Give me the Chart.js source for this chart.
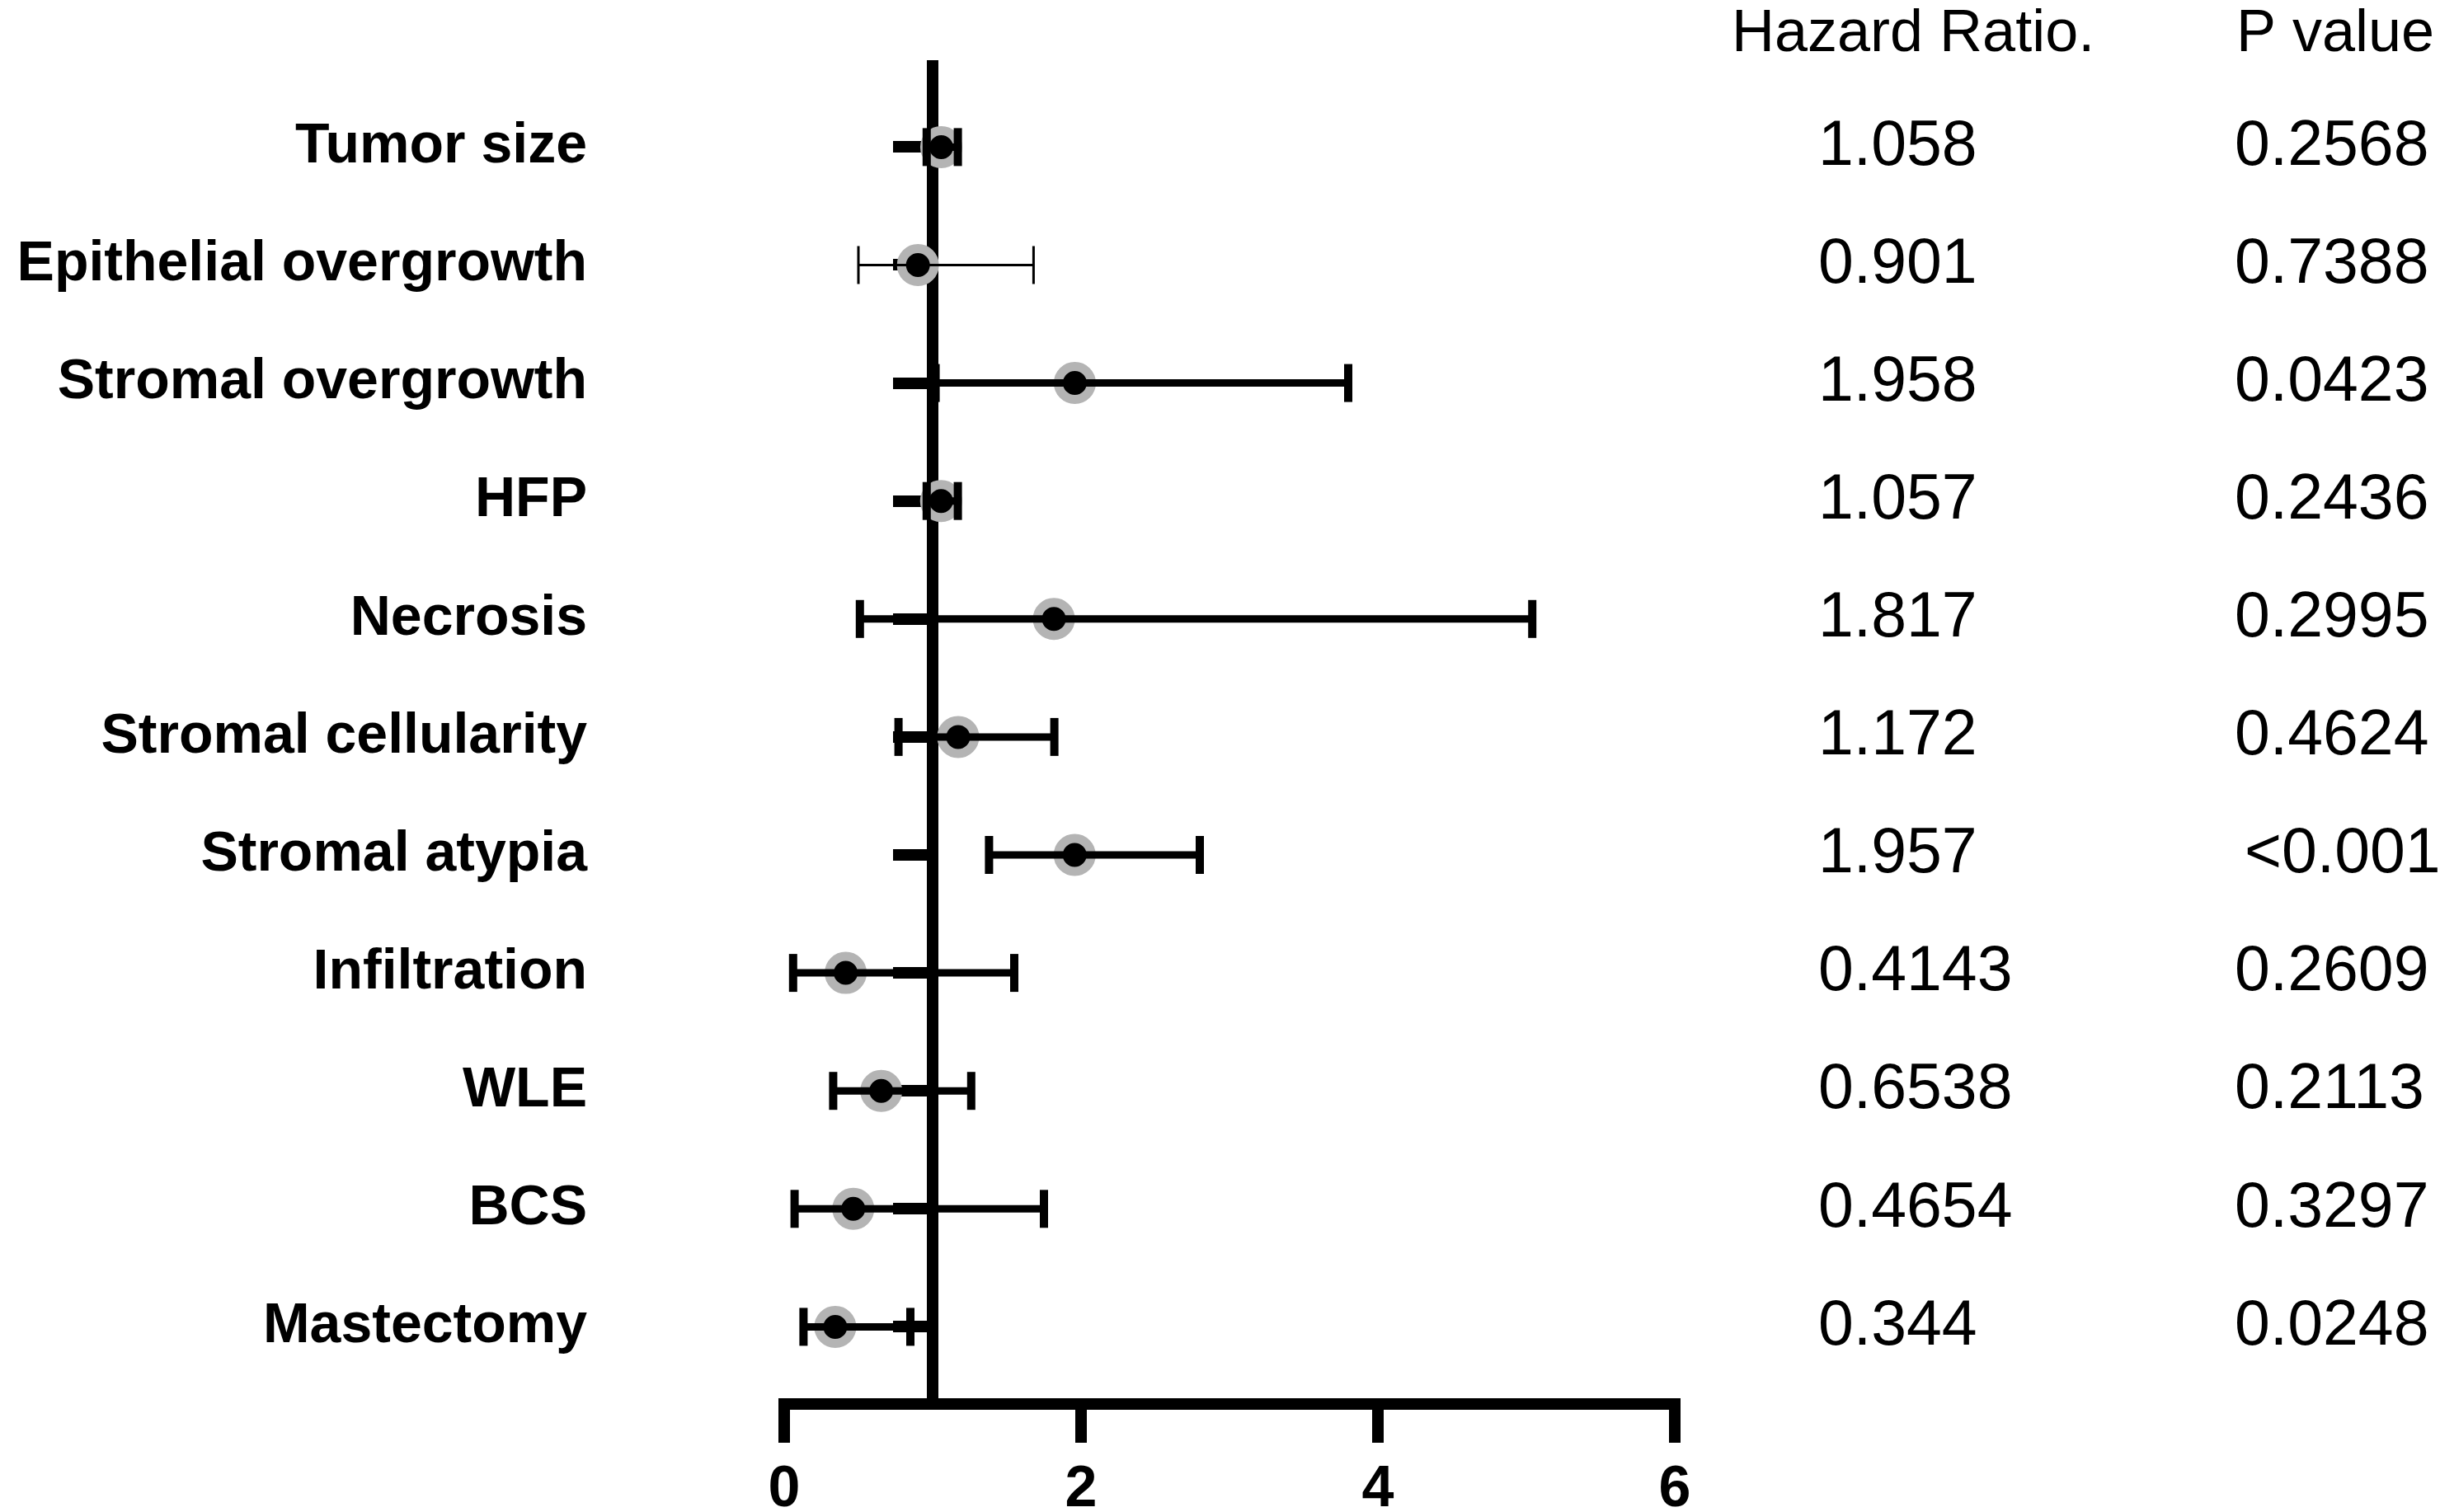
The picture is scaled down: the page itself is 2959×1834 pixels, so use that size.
<!DOCTYPE html>
<html>
<head>
<meta charset="utf-8">
<script src="https://cdn.jsdelivr.net/npm/chart.js@4/dist/chart.umd.min.js"></script>
<style>
  html, body { margin: 0; padding: 0; background: #fff; }
  #wrap { width: 2959px; height: 1834px; position: relative; }
</style>
</head>
<body>
<div id="wrap"><canvas id="forest"></canvas></div>
<script>
/* =====================
   DATA
===================== */

const categories = ['Tumor size', 'Epithelial overgrowth', 'Stromal overgrowth', 'HFP', 'Necrosis',
    'Stromal cellularity', 'Stromal atypia', 'Infiltration', 'WLE', 'BCS', 'Mastectomy'];

const hazardRatio = [1.058, 0.901, 1.958, 1.057, 1.817, 1.172, 1.957, 0.4143, 0.6538, 0.4654, 0.344];
const ciLow  = [0.96, 0.50, 1.02, 0.96, 0.51, 0.77, 1.38, 0.06, 0.33, 0.07, 0.13];
const ciHigh = [1.17, 1.68, 3.80, 1.17, 5.04, 1.82, 2.80, 1.55, 1.26, 1.75, 0.85];

const hrLabels = ['1.058', '0.901', '1.958', '1.057', '1.817', '1.172', '1.957', '0.4143', '0.6538', '0.4654', '0.344'];
const pValues  = ['0.2568', '0.7388', '0.0423', '0.2436', '0.2995', '0.4624', '<0.001', '0.2609', '0.2113', '0.3297', '0.0248'];

const xTicks = [0, 2, 4, 6];

/* =====================
   STYLE
===================== */

const FONT = '"Liberation Sans", Arial, Helvetica, sans-serif';
const rowTicks = axis => { axis.ticks = categories.map((c, i) => ({ value: i })); };

// whiskers + caps, one dataset per row (row 1 is drawn thin in the original)
const whiskers = categories.map((c, i) => {
    const thin = i === 1;
    return {
        type: 'scatter',
        showLine: true,
        data: [{ x: ciLow[i], y: i }, { x: ciHigh[i], y: i }],
        borderColor: '#000',
        borderWidth: thin ? 3 : 9,
        pointStyle: 'line',
        rotation: 90,
        pointRadius: 23,
        pointHoverRadius: 23,
        pointBorderWidth: thin ? 3 : 10,
        pointBorderColor: '#000',
        clip: false
    };
});

const markers = {
    type: 'scatter',
    data: hazardRatio.map((v, i) => ({ x: v, y: i })),
    pointStyle: 'circle',
    pointRadius: 20,
    pointHoverRadius: 20,
    pointBorderWidth: 11,
    pointBackgroundColor: '#000',
    pointBorderColor: '#b4b4b4',
    clip: false
};

/* =====================
   TABLE ON THE RIGHT
===================== */

const tablePlugin = {
    id: 'hrTable',
    afterDraw(chart) {
        const ctx = chart.ctx;
        const yScale = chart.scales.y;
        ctx.save();
        ctx.fillStyle = '#000';
        ctx.textAlign = 'left';
        ctx.textBaseline = 'middle';

        ctx.font = '72px ' + FONT;
        ctx.fillText('Hazard Ratio.', 2100, 42);
        ctx.fillText('P value', 2712, 42);

        ctx.font = '77px ' + FONT;
        hrLabels.forEach((t, i) => ctx.fillText(t, 2205, yScale.getPixelForValue(i)));
        pValues.forEach((t, i) => ctx.fillText(t, t[0] === '<' ? 2722 : 2710, yScale.getPixelForValue(i)));
        ctx.restore();
    }
};

/* =====================
   CHART
===================== */

new Chart(document.getElementById('forest'), {
    type: 'scatter',
    data: { datasets: [...whiskers, markers] },
    plugins: [tablePlugin],
    options: {
        responsive: true,
        maintainAspectRatio: false,
        animation: false,
        events: [],
        layout: { padding: { top: 80, right: 928, bottom: 0, left: 0 } },
        plugins: { legend: { display: false }, tooltip: { enabled: false } },
        scales: {
            x: {
                type: 'linear',
                min: 0,
                max: 6,
                afterBuildTicks: axis => { axis.ticks = xTicks.map(v => ({ value: v })); },
                afterFit: axis => { axis.height = 131; },
                border: { display: true, color: '#000', width: 14 },
                grid: { drawOnChartArea: false, drawTicks: true, tickLength: 47, tickWidth: 14, tickColor: '#000', color: '#000', lineWidth: 14 },
                ticks: { color: '#000', padding: 16, font: { family: FONT, size: 70, weight: 'bold' }, maxRotation: 0 }
            },
            y: {
                type: 'linear',
                position: 'left',
                reverse: true,
                min: -0.6875,
                max: 10.654,
                afterBuildTicks: rowTicks,
                afterFit: axis => { axis.width = 951; axis.paddingTop = 0; axis.paddingBottom = 0; },
                border: { display: false },
                grid: { display: false },
                ticks: {
                    autoSkip: false,
                    padding: 231,
                    color: '#000',
                    font: { family: FONT, size: 68, weight: 'bold' },
                    callback: v => categories[v]
                }
            },
            yLine: {
                axis: 'y',
                type: 'linear',
                position: { x: 1 },
                reverse: true,
                min: -0.6875,
                max: 10.654,
                afterBuildTicks: rowTicks,
                afterFit: axis => { axis.paddingTop = 0; axis.paddingBottom = 0; },
                border: { display: true, color: '#000', width: 14 },
                grid: { drawOnChartArea: false, drawTicks: true, tickLength: 41, tickWidth: 14, tickColor: '#000', color: '#000', lineWidth: 14 },
                ticks: { display: false }
            }
        }
    }
});
</script>
</body>
</html>
